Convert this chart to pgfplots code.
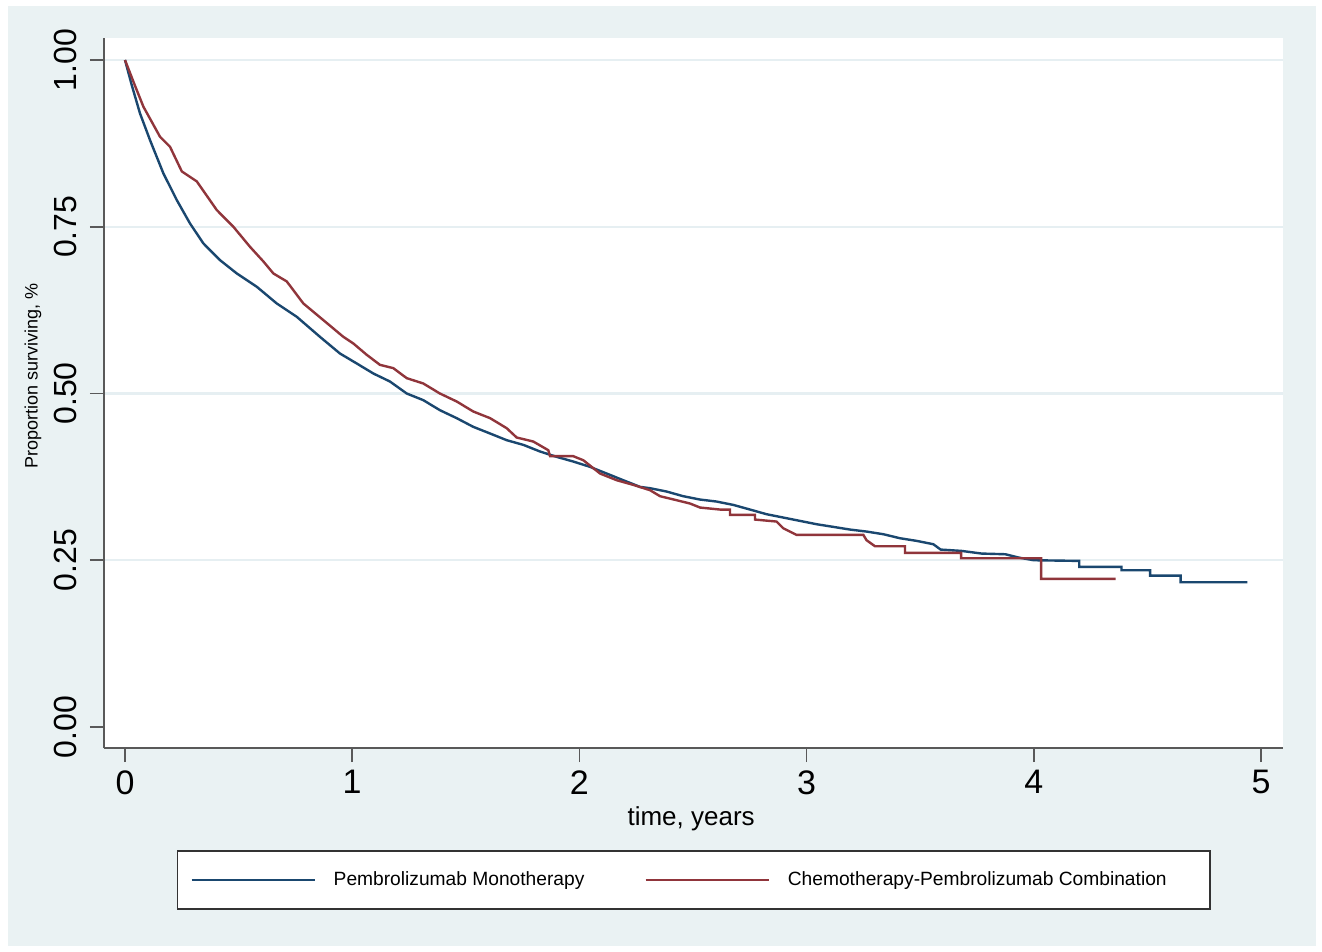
\documentclass[border=0pt]{standalone}
\usepackage{fontspec}
\setmainfont{Liberation Sans}
\usepackage{pgfplots}
\pgfplotsset{compat=1.18}
\definecolor{bgc}{RGB}{234,242,243}
\definecolor{gridc}{RGB}{230,239,242}
\definecolor{stnavy}{RGB}{26,71,111}
\definecolor{stmaroon}{RGB}{144,53,59}

\begin{document}
\begin{tikzpicture}
% graph region
\fill[white] (0,0) rectangle (661bp,476bp);
\fill[bgc] (4bp,3bp) rectangle (658bp,473bp);
\begin{axis}[
  at={(52bp,102bp)}, anchor=south west,
  scale only axis, width=589.5bp, height=355bp,
  xmin=-0.0924, xmax=5.097, ymin=-0.0315, ymax=1.033,
  axis x line*=bottom, axis y line*=left,
  axis line style={-, black!65, line width=0.8bp},
  axis background/.style={fill=white},
  xtick={0,1,2,3,4,5},
  ytick={0.25,0.5,0.75,1},
  extra y ticks={0}, extra y tick style={grid=none},
  ymajorgrids, grid style={gridc, line width=1.2bp},
  tick align=outside, major tick length=7bp,
  tick style={black!65, line width=0.8bp},
  xticklabel style={font=\fontsize{17bp}{20bp}\selectfont, inner sep=0pt},
  xticklabel shift=4bp,
  yticklabel style={font=\fontsize{16bp}{19bp}\selectfont, rotate=90, anchor=base, inner sep=0pt,
    /pgf/number format/fixed, /pgf/number format/fixed zerofill, /pgf/number format/precision=2},
  yticklabel shift=6.5bp,
  /pgf/number format/assume math mode=true,
  xlabel={time, years},
  xlabel style={font=\fontsize{13bp}{15bp}\selectfont, at={(axis description cs:0.498,0)}, anchor=base, yshift=-38.5bp},
  ylabel={Proportion surviving, \%},
  ylabel style={font=\fontsize{9bp}{11bp}\selectfont, at={(axis description cs:-0.0602,0.524)}, anchor=center},
  legend style={at={(0.5,-0.1437)}, anchor=north, draw=black!80, line width=0.8bp, fill=white,
    legend columns=2, font=\fontsize{9.6bp}{11bp}\selectfont, minimum height=29bp,
    inner xsep=6.5bp, inner ysep=0pt,
    /tikz/every odd column/.append style={column sep=7bp},
    /tikz/every even column/.append style={column sep=28bp}},
  legend image code/.code={\draw[#1] (0bp,0bp) -- (61.5bp,0bp);},
  every axis plot/.append style={line width=1.2bp},
]
% Pembrolizumab Monotherapy
\addplot[stnavy] coordinates {
(0,1.000) (0.030,0.962) (0.066,0.920) (0.110,0.880) (0.169,0.830) (0.228,0.790)
(0.286,0.755) (0.345,0.725) (0.418,0.700) (0.492,0.680) (0.580,0.660) (0.668,0.635)
(0.756,0.615) (0.858,0.585) (0.946,0.560) (1.020,0.545) (1.093,0.530) (1.166,0.518)
(1.240,0.500) (1.313,0.490) (1.386,0.475) (1.460,0.463) (1.533,0.450) (1.607,0.440)
(1.680,0.430) (1.753,0.423) (1.827,0.413) (1.900,0.405) (1.973,0.398) (2.047,0.390)
(2.120,0.380) (2.193,0.370) (2.267,0.360) (2.311,0.358) (2.384,0.353) (2.457,0.346)
(2.531,0.341) (2.604,0.338) (2.677,0.333) (2.751,0.326) (2.824,0.319) (2.897,0.314)
(2.971,0.309) (3.044,0.304) (3.118,0.300) (3.191,0.296) (3.264,0.293) (3.338,0.289)
(3.411,0.283) (3.485,0.279) (3.558,0.274) (3.590,0.266) (3.682,0.264) (3.771,0.260)
(3.875,0.259) (3.934,0.254) (4.000,0.250) (4.200,0.249) (4.200,0.240) (4.386,0.240)
(4.386,0.235) (4.512,0.235) (4.512,0.227) (4.646,0.227) (4.646,0.217) (4.940,0.217)
};
% Chemotherapy-Pembrolizumab Combination
\addplot[stmaroon] coordinates {
(0,1.000) (0.040,0.965) (0.081,0.930) (0.154,0.885) (0.198,0.870) (0.250,0.833)
(0.316,0.818) (0.404,0.775) (0.477,0.750) (0.550,0.720) (0.609,0.698) (0.653,0.680)
(0.712,0.668) (0.785,0.635) (0.873,0.610) (0.961,0.585) (1.005,0.575) (1.064,0.558)
(1.122,0.543) (1.181,0.538) (1.240,0.523) (1.313,0.515) (1.386,0.500) (1.460,0.488)
(1.533,0.473) (1.607,0.463) (1.680,0.448) (1.724,0.434) (1.797,0.428) (1.863,0.415)
(1.871,0.406) (1.973,0.406) (2.017,0.400) (2.091,0.380) (2.164,0.370) (2.237,0.363)
(2.311,0.355) (2.355,0.346) (2.428,0.340) (2.487,0.335) (2.531,0.329) (2.619,0.326)
(2.663,0.326) (2.663,0.318) (2.773,0.318) (2.773,0.311) (2.868,0.308) (2.897,0.298)
(2.956,0.288) (3.250,0.288) (3.264,0.280) (3.301,0.271) (3.433,0.271) (3.433,0.261)
(3.680,0.261) (3.680,0.253) (4.032,0.253) (4.032,0.222) (4.360,0.222)
};
\legend{Pembrolizumab Monotherapy, Chemotherapy-Pembrolizumab Combination\hspace*{13bp}}
\end{axis}
\end{tikzpicture}
\end{document}
